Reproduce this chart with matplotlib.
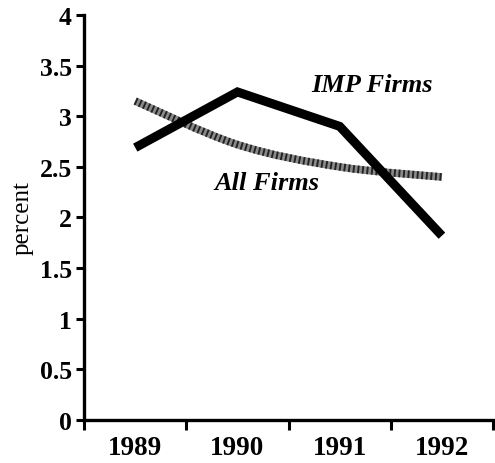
import matplotlib
matplotlib.use("Agg")
import matplotlib.pyplot as plt
import numpy as np
from matplotlib.path import Path
from matplotlib.patches import PathPatch

years = ["1989", "1990", "1991", "1992"]
imp_firms = [2.69, 3.24, 2.90, 1.82]
all_firms = [3.15, 2.72, 2.50, 2.40]
yticks = [0, 0.5, 1, 1.5, 2, 2.5, 3, 3.5, 4]
ytick_labels = ["0", "0.5", "1", "1.5", "2", "2.5", "3", "3.5", "4"]

serif = "Liberation Serif"

fig = plt.figure(figsize=(4.95, 4.64), dpi=100)
ax = fig.add_axes([0.170, 0.0927, 0.826, 0.8728])

x = np.arange(len(years))

def smooth_path(xs, ys, t=1/6):
    xs = list(xs); ys = list(ys)
    verts = [(xs[0], ys[0])]
    codes = [Path.MOVETO]
    n = len(xs)
    for i in range(n - 1):
        p0 = (xs[max(i - 1, 0)], ys[max(i - 1, 0)])
        p1 = (xs[i], ys[i])
        p2 = (xs[i + 1], ys[i + 1])
        p3 = (xs[min(i + 2, n - 1)], ys[min(i + 2, n - 1)])
        c1 = (p1[0] + (p2[0] - p0[0]) * t, p1[1] + (p2[1] - p0[1]) * t)
        c2 = (p2[0] - (p3[0] - p1[0]) * t, p2[1] - (p3[1] - p1[1]) * t)
        verts += [c1, c2, p2]
        codes += [Path.CURVE4] * 3
    return Path(verts, codes)

p = smooth_path(x, all_firms)
ax.add_patch(PathPatch(p, facecolor="none", edgecolor="#8a8a8a", lw=5.5, capstyle="butt", zorder=2))
ax.add_patch(PathPatch(p, facecolor="none", edgecolor="#222222", lw=5.5,
                       linestyle=(0, (0.25, 0.35)), capstyle="butt", zorder=2.1))

ax.plot(x, imp_firms, color="black", lw=6.5, solid_joinstyle="miter", solid_capstyle="butt", zorder=3)

ax.set_xlim(-0.5, 3.5)
ax.set_ylim(0, 4)
ax.set_yticks(yticks)
ax.set_yticklabels(ytick_labels, fontfamily=serif, fontweight="bold", fontsize=18.5)
ax.set_xticks(x)
ax.set_xticklabels(years, fontfamily=serif, fontweight="bold", fontsize=19.5)
ax.tick_params(axis="x", which="major", length=0, pad=11)
ax.set_xticks([-0.5, 0.5, 1.5, 2.5, 3.5], minor=True)
ax.tick_params(axis="x", which="minor", length=7, width=2.2, direction="out")
ax.tick_params(axis="y", length=6, width=2.2, direction="out", pad=3)

for s in ["top", "right"]:
    ax.spines[s].set_visible(False)
for s in ["left", "bottom"]:
    ax.spines[s].set_linewidth(2.4)

ax.set_ylabel("percent", fontfamily=serif, fontsize=18, labelpad=4)

ax.text(2.32, 3.31, "IMP Firms", fontfamily=serif, fontweight="bold", fontstyle="italic",
        fontsize=19, ha="center", va="center")
ax.text(1.29, 2.35, "All Firms", fontfamily=serif, fontweight="bold", fontstyle="italic",
        fontsize=19, ha="center", va="center")

fig.savefig("out.png", dpi=100)
